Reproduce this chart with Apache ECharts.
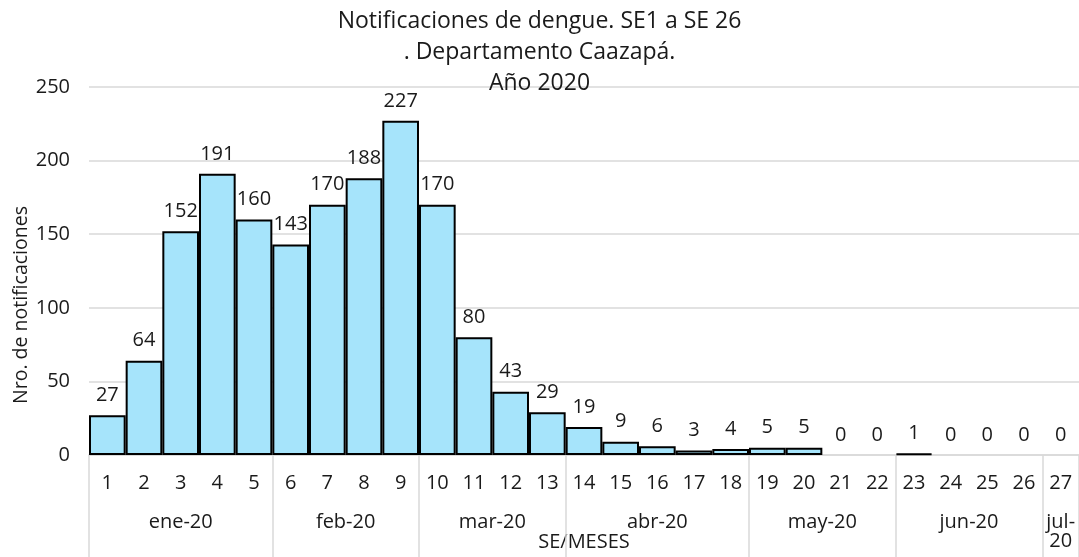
<!DOCTYPE html>
<html>
<head>
<meta charset="utf-8">
<script src="https://cdn.jsdelivr.net/npm/echarts@6/dist/echarts.min.js"></script>
<style>
  html, body { margin: 0; padding: 0; background: #fff; }
  #main { width: 1079px; height: 557px; }
</style>
</head>
<body>
<div id="main"></div>
<script>
// semanas epidemiologicas y notificaciones
var semanas = ['1','2','3','4','5','6','7','8','9','10','11','12','13','14','15','16','17','18','19','20','21','22','23','24','25','26','27'];
var notificaciones = [27, 64, 152, 191, 160, 143, 170, 188, 227, 170, 80, 43, 29, 19, 9, 6, 3, 4, 5, 5, 0, 0, 1, 0, 0, 0, 0];
// meses y cuantas semanas abarca cada uno
var meses = ['ene-20', 'feb-20', 'mar-20', 'abr-20', 'may-20', 'jun-20', 'jul-20'];
var semanasPorMes = [5, 4, 4, 5, 4, 4, 1];
var yTicks = [0, 50, 100, 150, 200, 250];

var fuente = '"Open Sans", "Noto Sans", sans-serif';

// limites y centros de cada mes en unidades de semana
var limites = [0];
var centros = [];
for (var i = 0; i < semanasPorMes.length; i++) {
    var ini = limites[limites.length - 1];
    limites.push(ini + semanasPorMes[i]);
    centros.push(ini + semanasPorMes[i] / 2);
}

var barData = notificaciones.map(function (v) {
    if (v === 0) {
        return { value: v, itemStyle: { borderWidth: 0 } };
    }
    return v;
});

var dom = document.getElementById('main');
var myChart = echarts.init(dom);

var option = {
    animation: false,
    textStyle: { fontFamily: fuente },
    title: {
        text: 'Notificaciones de dengue. SE1 a SE 26\n. Departamento Caazapá.\nAño 2020',
        left: 'center',
        top: 1,
        textStyle: {
            fontFamily: fuente,
            fontSize: 23,
            fontWeight: 'normal',
            color: '#1a1a1a',
            lineHeight: 31
        }
    },
    grid: {
        left: 89,
        right: 0,
        top: 87,
        bottom: 102,
        containLabel: false,
        outerBoundsMode: 'none'
    },
    xAxis: [{
        type: 'category',
        data: semanas,
        position: 'bottom',
        axisLine: { lineStyle: { color: '#d9d9d9', width: 1.5 } },
        axisTick: { show: false },
        axisLabel: {
            color: '#1a1a1a',
            fontSize: 20,
            margin: 18,
            interval: 0
        },
        name: 'SE/MESES',
        nameLocation: 'middle',
        nameGap: 77,
        nameMoveOverlap: false,
        nameTextStyle: { color: '#1a1a1a', fontSize: 20 }
    }, {
        type: 'value',
        min: 0,
        max: semanas.length,
        position: 'bottom',
        axisLine: { show: false },
        splitLine: { show: false },
        axisTick: {
            show: true,
            customValues: limites,
            length: 102,
            lineStyle: { color: '#d9d9d9', width: 1.5 }
        },
        axisLabel: {
            customValues: centros,
            color: '#1a1a1a',
            fontSize: 20,
            margin: 58,
            lineHeight: 19,
            formatter: function (v) {
                var idx = centros.indexOf(v);
                if (idx < 0) return '';
                var txt = meses[idx];
                if (semanasPorMes[idx] < 2) txt = txt.replace('-', '-\n');
                return txt;
            }
        }
    }],
    yAxis: {
        type: 'value',
        min: 0,
        max: yTicks[yTicks.length - 1],
        interval: 50,
        axisLine: { show: false },
        axisTick: { show: false },
        splitLine: { lineStyle: { color: '#d9d9d9', width: 1.5 } },
        axisLabel: {
            color: '#1a1a1a',
            fontSize: 20,
            margin: 19
        },
        name: 'Nro. de notificaciones',
        nameLocation: 'middle',
        nameGap: 58,
        nameMoveOverlap: false,
        nameTextStyle: {
            color: '#1a1a1a',
            fontSize: 19.5,
            padding: [0, 0, 0, -68]
        }
    },
    series: [{
        name: 'Notificaciones',
        type: 'bar',
        xAxisIndex: 0,
        data: barData,
        barCategoryGap: 0,
        itemStyle: {
            color: '#a6e4fb',
            borderColor: '#000',
            borderWidth: 2
        },
        label: {
            show: true,
            position: 'top',
            distance: 10,
            color: '#1a1a1a',
            fontSize: 20
        }
    }]
};

if (option && typeof option === "object") {
    myChart.setOption(option, true);
}
</script>
</body>
</html>
